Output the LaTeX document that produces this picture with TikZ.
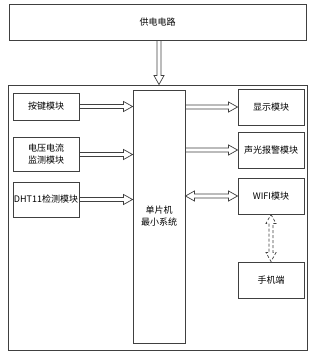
\documentclass[tikz,border=0pt]{standalone}
\usepackage{fontspec}
\setmainfont{Noto Sans CJK SC}
\usetikzlibrary{calc}
\definecolor{linegray}{RGB}{64,64,64}

\begin{document}
\begin{tikzpicture}[x=1pt, y=-1pt,
    font=\fontsize{9}{12}\selectfont,
    box/.style={draw=linegray, line width=0.9pt, rectangle, fill=white, inner sep=0pt, align=center},
    % hollow block arrow, one head
    hollow/.style={draw=linegray, line width=0.7pt, line join=miter, to path={
        ($(\tikztostart)!2pt!90:(\tikztotarget)$)
        -- ($(\tikztotarget)!9pt!(\tikztostart)!2pt!90:(\tikztotarget)$)
        -- ($(\tikztotarget)!9pt!(\tikztostart)!5pt!90:(\tikztotarget)$)
        -- (\tikztotarget)
        -- ($(\tikztotarget)!9pt!(\tikztostart)!5pt!-90:(\tikztotarget)$)
        -- ($(\tikztotarget)!9pt!(\tikztostart)!2pt!-90:(\tikztotarget)$)
        -- ($(\tikztostart)!2pt!-90:(\tikztotarget)$) -- cycle}},
    % hollow block arrow, two heads
    hollowboth/.style={draw=linegray, line width=0.7pt, line join=miter, to path={
        (\tikztostart)
        -- ($(\tikztostart)!9pt!(\tikztotarget)!5pt!90:(\tikztotarget)$)
        -- ($(\tikztostart)!9pt!(\tikztotarget)!2pt!90:(\tikztotarget)$)
        -- ($(\tikztotarget)!9pt!(\tikztostart)!2pt!90:(\tikztotarget)$)
        -- ($(\tikztotarget)!9pt!(\tikztostart)!5pt!90:(\tikztotarget)$)
        -- (\tikztotarget)
        -- ($(\tikztotarget)!9pt!(\tikztostart)!5pt!-90:(\tikztotarget)$)
        -- ($(\tikztotarget)!9pt!(\tikztostart)!2pt!-90:(\tikztotarget)$)
        -- ($(\tikztostart)!9pt!(\tikztotarget)!2pt!-90:(\tikztotarget)$)
        -- ($(\tikztostart)!9pt!(\tikztotarget)!5pt!-90:(\tikztotarget)$) -- cycle}}]
    \useasboundingbox (0,0) rectangle (317,354);

    \node[box, minimum width=297pt, minimum height=36pt] (power) at (157.5,22) {供电电路};
    \node[box, minimum width=299pt, minimum height=265pt] (board) at (157.5,217.5) {};
    \node[box, minimum width=52pt, minimum height=253pt] (mcu) at (159,216.5) {单片机\\最小系统};

    \node[box, minimum width=66pt, minimum height=27pt] (key) at (46,106.5) {按键模块};
    \node[box, minimum width=66pt, minimum height=34pt] (volt) at (46,154.5) {电压电流\\监测模块};
    \node[box, minimum width=66pt, minimum height=35pt] (dht) at (46,199.5) {DHT11检测模块};

    \node[box, minimum width=66pt, minimum height=36pt] (disp) at (271,107) {显示模块};
    \node[box, minimum width=66pt, minimum height=36pt] (alarm) at (271,150) {声光报警模块};
    \node[box, minimum width=66pt, minimum height=36pt] (wifi) at (271,196) {WIFI模块};
    \node[box, minimum width=66pt, minimum height=36pt] (phone) at (271,280) {手机端};

    % ends of the arrows on the mcu / board edges
    \coordinate (powerout) at (power.south -| mcu.north);
    \coordinate (boardin) at (board.north -| mcu.north);
    \coordinate (keyin) at (key.east -| mcu.west);
    \coordinate (voltin) at (volt.east -| mcu.west);
    \coordinate (dhtin) at (dht.east -| mcu.west);
    \coordinate (dispout) at (disp.west -| mcu.east);
    \coordinate (alarmout) at (alarm.west -| mcu.east);
    \coordinate (wifiout) at (wifi.west -| mcu.east);

    \draw[hollow] (powerout) to (boardin);
    \draw[hollow] (key.east) to (keyin);
    \draw[hollow] (volt.east) to (voltin);
    \draw[hollow] (dht.east) to (dhtin);
    \draw[hollow] (dispout) to (disp.west);
    \draw[hollow] (alarmout) to (alarm.west);
    \draw[hollowboth] (wifiout) to (wifi.west);
    \draw[hollowboth, dashed, dash pattern=on 3pt off 2pt] (wifi.south) to (phone.north);
\end{tikzpicture}
\end{document}
